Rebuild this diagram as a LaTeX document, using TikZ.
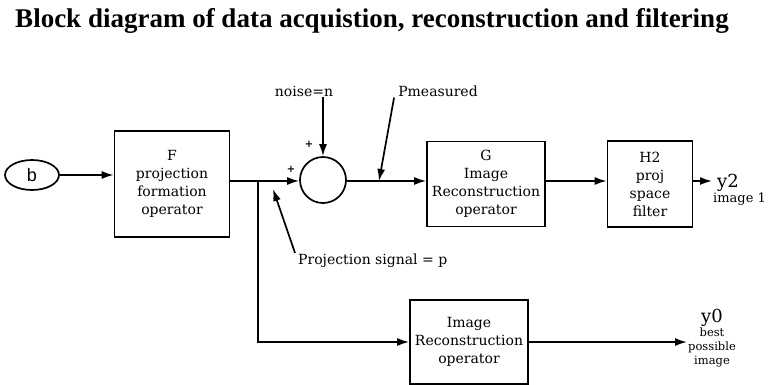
\documentclass[tikz,border=0pt]{standalone}
\usepackage{fontspec}
\setmainfont{DejaVu Serif}
\setsansfont{Liberation Sans}
\newfontfamily\titlefont{Liberation Serif}
\usetikzlibrary{positioning,arrows.meta,shapes.geometric}

\begin{document}
\begin{tikzpicture}[
  x=1pt, y=-1pt,
  font=\fontsize{14}{18}\selectfont,
  block/.style={draw, line width=1.7pt, align=center, inner sep=2pt},
  sumnode/.style={circle, draw, line width=1.7pt, minimum size=46pt, inner sep=0pt},
  lbl/.style={font=\fontsize{14}{16}\selectfont, inner sep=1pt},
  plus/.style={font=\bfseries\fontsize{10}{10}\selectfont, inner sep=0pt},
  outlbl/.style={align=center, inner sep=1pt, font=\fontsize{11.5}{14}\selectfont},
  arr/.style={-{Latex[length=12pt, width=8pt]}, line width=1.7pt},
  wire/.style={line width=1.7pt},
]
\useasboundingbox (0,0) rectangle (770,384);

\node[font=\titlefont\bfseries\fontsize{27}{30}\selectfont] (title) at (372,21)
  {Block diagram of data acquistion, reconstruction and filtering};

% upper path
\node[ellipse, draw, line width=1.7pt, minimum width=54pt, minimum height=30pt,
  font=\sffamily\fontsize{18}{18}\selectfont] (b) at (32,175) {b};
\node[block, minimum width=115pt, minimum height=106pt] (F) at (172,184)
  {F\\projection\\formation\\operator};
\node[sumnode] (sum) at (323,180) {};
\node[block, minimum width=118pt, minimum height=85pt] (G) at (486,184)
  {G\\Image\\Reconstruction\\operator};
\node[block, minimum width=85pt, minimum height=86pt] (H2) at (650,184)
  {H2\\proj\\space\\filter};
\node[outlbl, align=left, anchor=west, font=\fontsize{13}{15}\selectfont] (y2) at (712,190)
  {\hspace*{4pt}{\fontsize{18}{18}\selectfont y2}\\image 1};

% lower path
\node[block, minimum width=118pt, minimum height=84pt] (R0) at (469,342)
  {Image\\Reconstruction\\operator};
\node[outlbl] (y0) at (712,338)
  {{\fontsize{18}{18}\selectfont y0}\\best\\possible\\image};

% labels
\node[lbl] (noise) at (304,91) {noise=n};
\node[lbl] (pm) at (438,91) {Pmeasured};
\node[lbl, anchor=west] (ps) at (297,261) {Projection signal = p};
\node[plus] (plusA) at (291,169) {+};
\node[plus] (plusB) at (309,144) {+};

\coordinate (split) at (258,181);
\coordinate (pmtip) at (379,181);
\coordinate (pstip) at (273,189);

\draw[arr] (b) -- (F.west |- b);
\draw[wire] (F.east |- split) -- (split);
\draw[arr] (split) -- (sum.west |- split);
\draw[arr] (sum |- noise.south) -- (sum);
\draw[arr] (sum.east |- split) -- (G.west |- split);
\draw[arr] (G.east |- split) -- (H2.west |- split);
\draw[arr] (H2.east |- split) -- (split -| y2.west);
\draw[arr] (split) |- (R0);
\draw[arr] (R0) -- (R0 -| y0.west);
\draw[arr] ([xshift=-3pt]pm.south west) -- (pmtip);
\draw[arr] ([xshift=-2pt]ps.north west) -- (pstip);
\end{tikzpicture}
\end{document}
